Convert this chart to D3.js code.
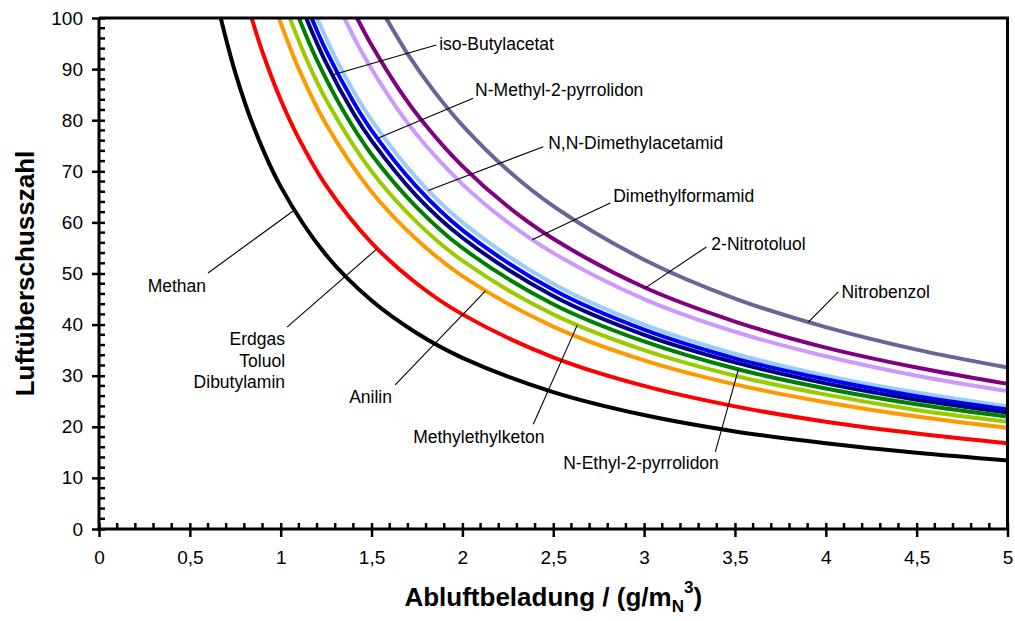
<!DOCTYPE html>
<html>
<head>
<meta charset="utf-8">
<script src="https://cdn.jsdelivr.net/npm/d3@7"></script>
<style>
  body { margin: 0; background: #fff; }
  svg { display: block; }
  text { font-family: Arial, "Liberation Sans", sans-serif; fill: #000; }
</style>
</head>
<body>
<svg id="chart" width="1015" height="621"></svg>
<script>
// Axis ticks
const xMajorTicks = [0, 0.5, 1, 1.5, 2, 2.5, 3, 3.5, 4, 4.5, 5];
const xTickLabels = ["0", "0,5", "1", "1,5", "2", "2,5", "3", "3,5", "4", "4,5", "5"];
const yMajorTicks = [0, 10, 20, 30, 40, 50, 60, 70, 80, 90, 100];
const yTickLabels = ["0", "10", "20", "30", "40", "50", "60", "70", "80", "90", "100"];

// Curves: [Abluftbeladung, Luftüberschusszahl]
const methan = [[0.67,100],[0.75,89.3],[0.85,78.8],[1,67],[1.25,53.6],[1.5,44.7],[1.75,38.3],[2,33.5],[2.5,26.8],[3,22.3],[3.5,19.1],[4,16.8],[4.5,14.9],[5,13.4]];
const erdgas = [[0.84,100],[0.9,93.3],[1,84],[1.1,76.4],[1.25,67.2],[1.5,56],[1.75,48],[2,42],[2.5,33.6],[3,28],[3.5,24],[4,21],[4.5,18.7],[5,16.8]];
const anilin = [[0.99,100],[1.1,90],[1.25,79.2],[1.5,66],[1.75,56.6],[2,49.5],[2.5,39.6],[3,33],[3.5,28.3],[4,24.8],[4.5,22],[5,19.8]];
const mek = [[1.05,100],[1.15,91.3],[1.25,84],[1.5,70],[1.75,60],[2,52.5],[2.5,42],[3,35],[3.5,30],[4,26.3],[4.5,23.3],[5,21]];
const nep = [[1.1,100],[1.2,91.7],[1.35,81.5],[1.5,73.3],[1.75,62.9],[2,55],[2.5,44],[3,36.7],[3.5,31.4],[4,27.5],[4.5,24.4],[5,22]];
const isoButyl = [[1.14,100],[1.25,91.2],[1.4,81.4],[1.5,76],[1.75,65.1],[2,57],[2.5,45.6],[3,38],[3.5,32.6],[4,28.5],[4.5,25.3],[5,22.8]];
const nmp = [[1.17,100],[1.25,93.6],[1.4,83.6],[1.5,78],[1.75,66.9],[2,58.5],[2.5,46.8],[3,39],[3.5,33.4],[4,29.3],[4.5,26],[5,23.4]];
const dmac = [[1.2,100],[1.3,92.3],[1.4,85.7],[1.5,80],[1.75,68.6],[2,60],[2.5,48],[3,40],[3.5,34.3],[4,30],[4.5,26.7],[5,24]];
const dmf = [[1.35,100],[1.45,93.1],[1.6,84.4],[1.75,77.1],[2,67.5],[2.25,60],[2.5,54],[3,45],[3.5,38.6],[4,33.8],[4.5,30],[5,27]];
const nitrotoluol = [[1.42,100],[1.5,94.7],[1.65,86.1],[1.8,78.9],[2,71],[2.25,63.1],[2.5,56.8],[3,47.3],[3.5,40.6],[4,35.5],[4.5,31.6],[5,28.4]];
const nitrobenzol = [[1.58,100],[1.7,92.9],[1.85,85.4],[2,79],[2.25,70.2],[2.5,63.2],[3,52.7],[3.5,45.1],[4,39.5],[4.5,35.1],[5,31.6]];

// Drawing order, back to front
const series = [
  { key: "nitrobenzol", points: nitrobenzol, color: "#666699" },
  { key: "nitrotoluol", points: nitrotoluol, color: "#800080" },
  { key: "dmf",         points: dmf,         color: "#cc99ff" },
  { key: "dmac",        points: dmac,        color: "#99ccff" },
  { key: "nmp",         points: nmp,         color: "#0000ff" },
  { key: "isoButyl",    points: isoButyl,    color: "#000080" },
  { key: "nep",         points: nep,         color: "#008000" },
  { key: "mek",         points: mek,         color: "#99cc00" },
  { key: "anilin",      points: anilin,      color: "#ff9900" },
  { key: "erdgas",      points: erdgas,      color: "#ff0000" },
  { key: "methan",      points: methan,      color: "#000000" }
];

// Callouts: text position and leader start in data units, leader ends on the curve at x = "at"
const callouts = [
  { key: "methan",      lines: ["Methan"], anchor: "end", pos: [0.589, 46.4], from: [0.600, 50.1], at: 1.074 },
  { key: "erdgas",      lines: ["Erdgas", "Toluol", "Dibutylamin"], anchor: "end", pos: [1.024, 36.0], from: [1.035, 39.5], at: 1.531 },
  { key: "anilin",      lines: ["Anilin"], anchor: "start", pos: [1.377, 24.7], from: [1.630, 28.2], at: 2.126 },
  { key: "mek",         lines: ["Methylethylketon"], anchor: "start", pos: [1.729, 16.8], from: [2.390, 20.5], at: 2.632 },
  { key: "nep",         lines: ["N-Ethyl-2-pyrrolidon"], anchor: "start", pos: [2.555, 11.7], from: [3.392, 15.1], at: 3.519 },
  { key: "isoButyl",    lines: ["iso-Butylacetat"], anchor: "start", pos: [1.872, 93.7], from: [1.856, 94.7], at: 1.283 },
  { key: "nmp",         lines: ["N-Methyl-2-pyrrolidon"], anchor: "start", pos: [2.070, 84.7], from: [2.059, 84.3], at: 1.531 },
  { key: "dmac",        lines: ["N,N-Dimethylacetamid"], anchor: "start", pos: [2.472, 74.4], from: [2.445, 74.8], at: 1.812 },
  { key: "dmf",         lines: ["Dimethylformamid"], anchor: "start", pos: [2.830, 64.0], from: [2.814, 63.8], at: 2.384 },
  { key: "nitrotoluol", lines: ["2-Nitrotoluol"], anchor: "start", pos: [3.370, 54.6], from: [3.343, 55.2], at: 3.007 },
  { key: "nitrobenzol", lines: ["Nitrobenzol"], anchor: "start", pos: [4.086, 45.2], from: [4.069, 46.4], at: 3.904 }
];

const svg = d3.select("#chart");
const W = 1015, H = 621;
const margin = { top: 18, right: 7.5, bottom: 92, left: 99 };

const x = d3.scaleLinear().domain([0, 5]).range([margin.left, W - margin.right]);
const y = d3.scaleLinear().domain([0, 100]).range([H - margin.bottom, margin.top]);

svg.append("rect").attr("width", W).attr("height", H).attr("fill", "#fff");

svg.append("clipPath").attr("id", "plotClip")
  .append("rect")
  .attr("x", x(0)).attr("y", y(100))
  .attr("width", x(5) - x(0)).attr("height", y(0) - y(100));

// Curves
const line = d3.line()
  .x(d => x(d[0]))
  .y(d => y(d[1]))
  .curve(d3.curveCatmullRom.alpha(0.5));

svg.append("g").attr("clip-path", "url(#plotClip)")
  .selectAll("path")
  .data(series)
  .join("path")
  .attr("d", d => line(d.points))
  .attr("fill", "none")
  .attr("stroke", d => d.color)
  .attr("stroke-width", 4)
  .attr("stroke-linejoin", "round");

// Frame (top and right)
svg.append("path")
  .attr("d", `M${x(0)},${y(100)}H${x(5)}V${y(0)}`)
  .attr("fill", "none").attr("stroke", "#000").attr("stroke-width", 3);

// X axis: minor ticks inside, major ticks crossing
const xMinor = d3.range(0, 51).map(i => i / 10).filter(v => Math.abs(v * 2 - Math.round(v * 2)) > 1e-9);
const xAxisMajor = d3.axisBottom(x).tickValues(xMajorTicks).tickSize(8).tickSizeOuter(0)
  .tickFormat((d, i) => xTickLabels[i]).tickPadding(14);
const gx = svg.append("g").attr("transform", `translate(0,${y(0)})`).call(xAxisMajor);
gx.select(".domain").remove();
gx.selectAll(".tick line").attr("y1", -6).attr("y2", 8).attr("stroke", "#000").attr("stroke-width", 2.5);
gx.selectAll(".tick text").attr("font-size", 19).attr("fill", "#000");
svg.append("g").selectAll("line").data(xMinor).join("line")
  .attr("x1", d => x(d)).attr("x2", d => x(d))
  .attr("y1", y(0) - 6).attr("y2", y(0))
  .attr("stroke", "#000").attr("stroke-width", 2.5);

// Y axis: minor ticks inside, major ticks crossing
const yMinor = d3.range(0, 101, 2).filter(v => v % 10 !== 0);
const yAxisMajor = d3.axisLeft(y).tickValues(yMajorTicks).tickSize(7).tickSizeOuter(0)
  .tickFormat((d, i) => yTickLabels[i]).tickPadding(9);
const gy = svg.append("g").attr("transform", `translate(${x(0)},0)`).call(yAxisMajor);
gy.select(".domain").remove();
gy.selectAll(".tick line").attr("x1", -7).attr("x2", 6).attr("stroke", "#000").attr("stroke-width", 2.5);
gy.selectAll(".tick text").attr("font-size", 19).attr("fill", "#000");
svg.append("g").selectAll("line").data(yMinor).join("line")
  .attr("x1", x(0)).attr("x2", x(0) + 6)
  .attr("y1", d => y(d)).attr("y2", d => y(d))
  .attr("stroke", "#000").attr("stroke-width", 2.5);

// Axis lines
svg.append("path")
  .attr("d", `M${x(0)},${y(100)}V${y(0)}H${x(5)}`)
  .attr("fill", "none").attr("stroke", "#000").attr("stroke-width", 3);

// Callouts
const byKey = Object.fromEntries(series.map(s => [s.key, s.points]));
function valueAt(points, xv) {
  for (let i = 1; i < points.length; i++) {
    const [x0, y0] = points[i - 1], [x1, y1] = points[i];
    if (xv >= x0 && xv <= x1) {
      // hyperbola-like segment: interpolate in 1/x
      const t = (1 / xv - 1 / x0) / (1 / x1 - 1 / x0);
      return y0 + t * (y1 - y0);
    }
  }
  return points[points.length - 1][1];
}

const gc = svg.append("g");
callouts.forEach(c => {
  const pts = byKey[c.key];
  gc.append("line")
    .attr("x1", x(c.from[0])).attr("y1", y(c.from[1]))
    .attr("x2", x(c.at)).attr("y2", y(valueAt(pts, c.at)))
    .attr("stroke", "#000").attr("stroke-width", 1.1);
  const t = gc.append("text")
    .attr("x", x(c.pos[0])).attr("y", y(c.pos[1]))
    .attr("text-anchor", c.anchor)
    .attr("font-size", 17.5);
  c.lines.forEach((s, i) => {
    t.append("tspan").attr("x", x(c.pos[0])).attr("dy", i === 0 ? 0 : 21.5).text(s);
  });
});

// Axis titles
const xt = svg.append("text")
  .attr("x", (x(0) + x(5)) / 2).attr("y", 606)
  .attr("text-anchor", "middle")
  .attr("font-size", 26).attr("font-weight", "bold");
xt.append("tspan").text("Abluftbeladung / (g/m");
xt.append("tspan").attr("font-size", 17).attr("dy", 6).text("N");
xt.append("tspan").attr("font-size", 17).attr("dy", -19).text("3");
xt.append("tspan").attr("dy", 13).text(")");

svg.append("text")
  .attr("transform", `translate(34,${(y(0) + y(100)) / 2}) rotate(-90)`)
  .attr("text-anchor", "middle")
  .attr("font-size", 26).attr("font-weight", "bold")
  .text("Luftüberschusszahl");
</script>
</body>
</html>
